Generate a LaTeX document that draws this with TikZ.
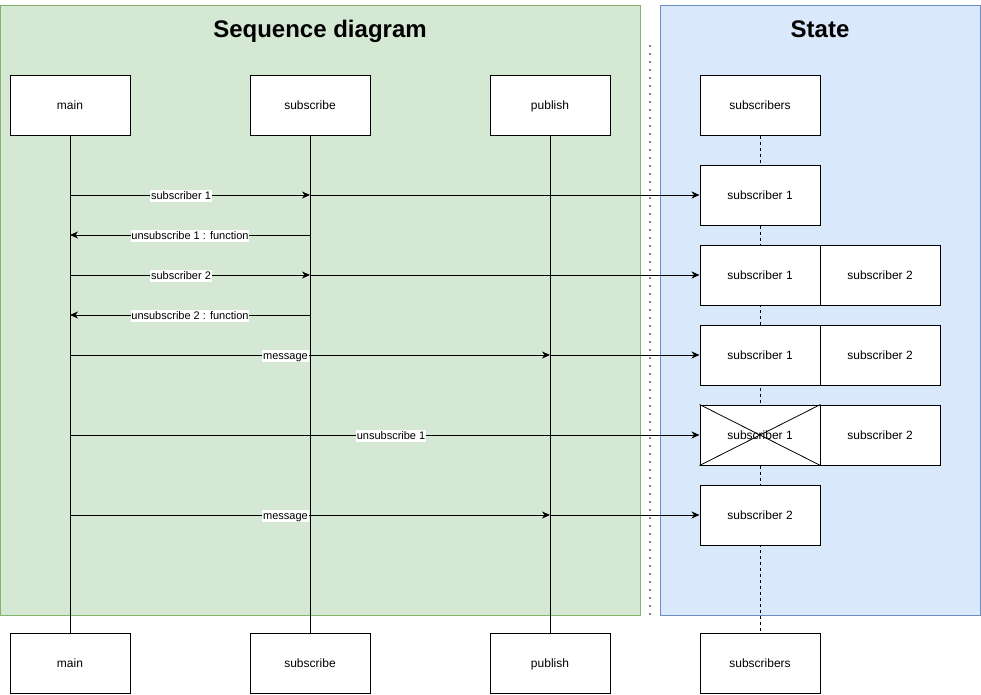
\documentclass[tikz,border=0pt]{standalone}
\usepackage{fontspec}
\setmainfont{Liberation Sans}
\usetikzlibrary{arrows.meta}
\definecolor{gfill}{HTML}{D5E8D4}
\definecolor{gline}{HTML}{82B366}
\definecolor{bfill}{HTML}{DAE8FC}
\definecolor{bline}{HTML}{6C8EBF}
\tikzset{
  box/.style={draw=black, fill=white, line width=1pt, minimum width=120pt, minimum height=60pt, inner sep=0pt, font=\fontsize{12}{14}\selectfont},
  boxtext/.style={text height=8.7pt, text depth=2.5pt, inner sep=0pt, yshift=-1.6pt, font=\fontsize{12}{14}\selectfont},
  lbl/.style={fill=white, inner sep=0.8pt, text height=8pt, text depth=2.4pt, font=\fontsize{11}{13}\selectfont},
  msg/.style={line width=1pt, -{Stealth[length=8pt,width=7pt,inset=2.5pt]}},
  life/.style={line width=1pt},
  dlife/.style={line width=1pt, dash pattern=on 3pt off 3pt},
  titl/.style={text height=17.5pt, text depth=5pt, yshift=-1.5pt, font=\fontsize{24}{28}\selectfont\bfseries},
}
\begin{document}
\begin{tikzpicture}[x=1pt,y=-1pt]
\useasboundingbox (0,0) rectangle (981,694);
% panels
\node[draw=gline, fill=gfill, line width=1pt, minimum width=640pt, minimum height=610pt, inner sep=0pt] (gp) at (320.5,310) {};
\node[draw=bline, fill=bfill, line width=1pt, minimum width=320pt, minimum height=610pt, inner sep=0pt] (bp) at (820.5,310) {};
\node[titl] (t1) at (320,30) {Sequence diagram};
\node[titl] (t2) at (820,30) {State};
% separator
\coordinate (d1) at (650,46);
\coordinate (d2) at (650,615);
\draw[line width=1.7pt, line cap=round, dash pattern=on 0pt off 8pt] (d1) -- (d2);
% actors
\node[box] (main) at (70,105) {};
\node[box] (sub) at (310,105) {};
\node[box] (pub) at (550,105) {};
\node[box] (subs) at (760,105) {};
\node[box] (mainb) at (70,663) {};
\node[box] (subb) at (310,663) {};
\node[box] (pubb) at (550,663) {};
\node[box] (subsb) at (760,663) {};
% lifelines
\draw[life] (main) -- (mainb);
\draw[life] (sub) -- (subb);
\draw[life] (pub) -- (pubb);
\draw[dlife] (subs) -- (subsb);
% state boxes
\node[box] (s0) at (760,195) {};
\node[box] (s1a) at (760,275) {};
\node[box] (s1b) at (880,275) {};
\node[box] (s2a) at (760,355) {};
\node[box] (s2b) at (880,355) {};
\node[box] (s3a) at (760,435) {};
\node[box] (s3b) at (880,435) {};
\node[box] (s4) at (760,515) {};
\draw[line width=0.8pt] (s3a.north west) -- (s3a.south east);
\draw[line width=0.8pt] (s3a.south west) -- (s3a.north east);
% box texts
\node[boxtext] (tmain) at (main) {main};
\node[boxtext] (tsub) at (sub) {subscribe};
\node[boxtext] (tpub) at (pub) {publish};
\node[boxtext] (tsubs) at (subs) {subscribers};
\node[boxtext] (tmainb) at (mainb) {main};
\node[boxtext] (tsubb) at (subb) {subscribe};
\node[boxtext] (tpubb) at (pubb) {publish};
\node[boxtext] (tsubsb) at (subsb) {subscribers};
\node[boxtext] (ts0) at (s0) {subscriber 1};
\node[boxtext] (ts1a) at (s1a) {subscriber 1};
\node[boxtext] (ts1b) at (s1b) {subscriber 2};
\node[boxtext] (ts2a) at (s2a) {subscriber 1};
\node[boxtext] (ts2b) at (s2b) {subscriber 2};
\node[boxtext] (ts3a) at (s3a) {subscriber 1};
\node[boxtext] (ts3b) at (s3b) {subscriber 2};
\node[boxtext] (ts4) at (s4) {subscriber 2};
% lifeline points
\coordinate (m1) at (70,195); \coordinate (u1) at (310,195);
\coordinate (m2) at (70,235); \coordinate (u2) at (310,235);
\coordinate (m3) at (70,275); \coordinate (u3) at (310,275);
\coordinate (m4) at (70,315); \coordinate (u4) at (310,315);
\coordinate (m5) at (70,355); \coordinate (p5) at (550,355);
\coordinate (m6) at (70,435);
\coordinate (m7) at (70,515); \coordinate (p7) at (550,515);
% messages
\draw[msg] (m1) -- node[lbl, pos=0.4625, yshift=-1.2pt] {subscriber 1} (u1);
\draw[msg] (u1) -- (s0);
\draw[msg] (u2) -- node[lbl, pos=0.5, yshift=-1.2pt] {unsubscribe 1 : function} (m2);
\draw[msg] (m3) -- node[lbl, pos=0.4625, yshift=-1.2pt] {subscriber 2} (u3);
\draw[msg] (u3) -- (s1a);
\draw[msg] (u4) -- node[lbl, pos=0.5, yshift=-1.2pt] {unsubscribe 2 : function} (m4);
\draw[msg] (m5) -- node[lbl, pos=0.449, yshift=-1.2pt] {message} (p5);
\draw[msg] (p5) -- (s2a);
\draw[msg] (m6) -- node[lbl, pos=0.51, yshift=-1.2pt] {unsubscribe 1} (s3a);
\draw[msg] (m7) -- node[lbl, pos=0.449, yshift=-1.2pt] {message} (p7);
\draw[msg] (p7) -- (s4);
\end{tikzpicture}
\end{document}
